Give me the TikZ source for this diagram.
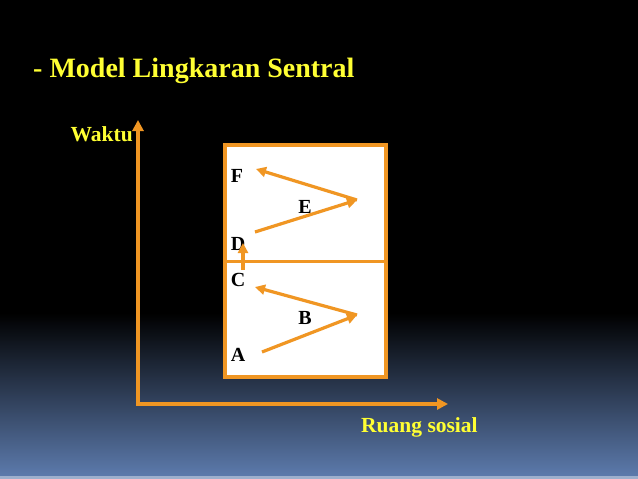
\documentclass[tikz,border=0pt]{standalone}
\usepackage{fontspec}
\setmainfont{Liberation Serif}
\usetikzlibrary{arrows.meta}
\definecolor{orng}{RGB}{240,150,35}
\definecolor{ylw}{RGB}{255,255,51}
\definecolor{deepblue}{RGB}{92,122,172}
\begin{document}
\begin{tikzpicture}[x=1pt,y=-1pt,
  ax/.style = {draw=orng, line width=3.2pt, {Triangle[length=11pt,width=11pt]}-{Triangle[length=11pt,width=11pt]}},
  mv/.style = {draw=orng, line width=3.2pt, -{Triangle[length=10pt,width=10pt]}},
  lbl/.style = {font=\fontsize{20}{24}\selectfont\bfseries, inner sep=0pt},
  ttl/.style = {text=ylw, font=\fontsize{21.5}{25}\selectfont\bfseries, inner sep=0pt}]
  \useasboundingbox (0,0) rectangle (638,479);
  \fill[black] (0,0) rectangle (638,314);
  \shade[top color=black, bottom color=deepblue] (0,313) rectangle (638,476);
  \fill[deepblue!60!white] (0,476) rectangle (638,479);
  \node[text=ylw, font=\fontsize{28}{34}\selectfont\bfseries, inner sep=0pt, anchor=base west] (title) at (33,77) {- Model Lingkaran Sentral};
  \node[draw=orng, fill=white, line width=3.2pt, minimum width=161pt, minimum height=232pt] (box) at (305.5,261) {};
  \draw[draw=orng, line width=3pt] (box.west) -- (box.east);
  \coordinate (o) at (138,404);
  \coordinate (wt) at (138,120);
  \coordinate (rs) at (448,404);
  \draw[ax] (wt) -- (o) -- (rs);
  \node[ttl, anchor=base east] (waktu) at (133,141) {Waktu};
  \node[ttl, anchor=base west] (ruang) at (361,432) {Ruang sosial};
  \node[lbl] (A) at (238,355) {A};
  \node[lbl] (B) at (305,318) {B};
  \node[lbl] (C) at (238,280) {C};
  \node[lbl] (D) at (238,244) {D};
  \node[lbl] (E) at (305,207) {E};
  \node[lbl] (F) at (237,176) {F};
  \coordinate (a1) at (262,352);
  \coordinate (b1) at (357,315);
  \coordinate (c1) at (255,287);
  \coordinate (c2) at (243,270);
  \coordinate (d1) at (243,243);
  \coordinate (d2) at (255,232);
  \coordinate (e1) at (357,200);
  \coordinate (f1) at (256,169);
  \draw[mv] (a1) -- (b1);
  \draw[mv] (b1) -- (c1);
  \draw[mv] (c2) -- (d1);
  \draw[mv] (d2) -- (e1);
  \draw[mv] (e1) -- (f1);
\end{tikzpicture}
\end{document}
